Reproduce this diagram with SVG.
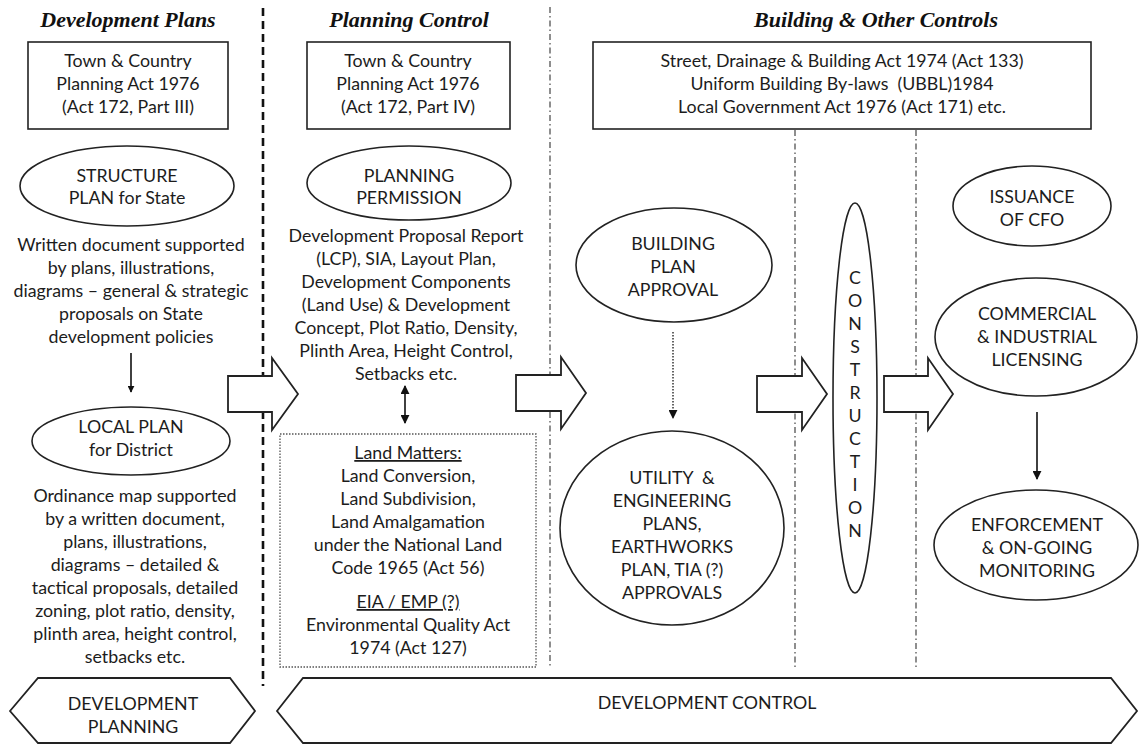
<svg xmlns="http://www.w3.org/2000/svg" width="1139" height="744" viewBox="0 0 1139 744">
  <defs>
    <style>
      .title { font-family: "Liberation Serif", "Times New Roman", serif; font-weight: bold; font-style: italic; font-size: 22px; fill: #111; text-anchor: middle; }
      .t { font-family: Lato, "Open Sans", "Liberation Sans", sans-serif; font-size: 17.8px; fill: #1c1c1c; text-anchor: middle; }
      .pre { white-space: pre; }
      .ul { text-decoration: underline; }
      .box { fill: #fff; stroke: #222; stroke-width: 1.6; }
      .ell { fill: #fff; stroke: #222; stroke-width: 1.6; }
      .dotbox { fill: none; stroke: #555; stroke-width: 1.3; stroke-dasharray: 1.5 1.5; }
      .sep-bold { stroke: #111; stroke-width: 2.6; stroke-dasharray: 8 5; fill: none; }
      .sep { stroke: #444; stroke-width: 1.2; stroke-dasharray: 6 3 1.5 3; fill: none; }
      .blk { fill: #fff; stroke: #222; stroke-width: 1.8; stroke-linejoin: miter; }
      .line { stroke: #111; stroke-width: 1.6; fill: none; }
      .dotline { stroke: #333; stroke-width: 1.5; stroke-dasharray: 1.5 1.5; fill: none; }
    </style>
    <marker id="ah" viewBox="0 0 10 10" refX="9" refY="5" markerWidth="7" markerHeight="7" markerUnits="userSpaceOnUse" orient="auto-start-reverse">
      <path d="M0,0 L10,5 L0,10 z" fill="#111"/>
    </marker>
    <marker id="ah2" viewBox="0 0 10 10" refX="9" refY="5" markerWidth="9" markerHeight="9" markerUnits="userSpaceOnUse" orient="auto-start-reverse">
      <path d="M0,0 L10,5 L0,10 z" fill="#111"/>
    </marker>
  </defs>

  <rect width="1139" height="744" fill="#fff"/>

  <!-- column separators -->
  <g id="separators">
    <line class="sep-bold" x1="263" y1="8" x2="263" y2="686"/>
    <line class="sep" x1="550" y1="7" x2="550" y2="668"/>
    <line class="sep" x1="795" y1="130" x2="795" y2="668"/>
    <line class="sep" x1="916" y1="130" x2="916" y2="668"/>
  </g>

  <!-- column headings -->
  <g id="headings">
    <text class="title" x="128" y="27">Development Plans</text>
    <text class="title" x="409" y="27">Planning Control</text>
    <text class="title" x="876" y="27">Building &amp; Other Controls</text>
  </g>

  <!-- legislation boxes -->
  <g id="act-tcpa-part3">
    <rect class="box" x="28" y="42" width="200" height="87"/>
    <text class="t" x="128" y="67">Town &amp; Country</text>
    <text class="t" x="128" y="90">Planning Act 1976</text>
    <text class="t" x="128" y="113">(Act 172, Part III)</text>
  </g>
  <g id="act-tcpa-part4">
    <rect class="box" x="307" y="42" width="203" height="87"/>
    <text class="t" x="408" y="67">Town &amp; Country</text>
    <text class="t" x="408" y="90">Planning Act 1976</text>
    <text class="t" x="408" y="113">(Act 172, Part IV)</text>
  </g>
  <g id="act-building">
    <rect class="box" x="593" y="42" width="498" height="87"/>
    <text class="t" x="842" y="67">Street, Drainage &amp; Building Act 1974 (Act 133)</text>
    <text class="t pre" x="842" y="90">Uniform Building By-laws  (UBBL)1984</text>
    <text class="t" x="842" y="113">Local Government Act 1976 (Act 171) etc.</text>
  </g>

  <!-- development plans column -->
  <g id="structure-plan">
    <ellipse class="ell" cx="127" cy="186" rx="107" ry="40"/>
    <text class="t" x="127" y="182">STRUCTURE</text>
    <text class="t" x="127" y="204">PLAN for State</text>
  </g>
  <g id="structure-plan-note">
    <text class="t" x="131" y="251">Written document supported</text>
    <text class="t" x="131" y="274">by plans, illustrations,</text>
    <text class="t" x="131" y="297">diagrams – general &amp; strategic</text>
    <text class="t" x="131" y="320">proposals on State</text>
    <text class="t" x="131" y="343">development policies</text>
  </g>
  <g id="local-plan">
    <ellipse class="ell" cx="131" cy="441" rx="99" ry="34"/>
    <text class="t" x="131" y="433">LOCAL PLAN</text>
    <text class="t" x="131" y="456">for District</text>
  </g>
  <g id="local-plan-note">
    <text class="t" x="135" y="502">Ordinance map supported</text>
    <text class="t" x="135" y="525">by a written document,</text>
    <text class="t" x="135" y="548">plans, illustrations,</text>
    <text class="t" x="135" y="571">diagrams – detailed &amp;</text>
    <text class="t" x="135" y="594">tactical proposals, detailed</text>
    <text class="t" x="135" y="617">zoning, plot ratio, density,</text>
    <text class="t" x="135" y="640">plinth area, height control,</text>
    <text class="t" x="135" y="663">setbacks etc.</text>
  </g>

  <!-- planning control column -->
  <g id="planning-permission">
    <ellipse class="ell" cx="409" cy="183" rx="102" ry="37"/>
    <text class="t" x="409" y="182">PLANNING</text>
    <text class="t" x="409" y="204">PERMISSION</text>
  </g>
  <g id="planning-permission-note">
    <text class="t" x="406" y="242">Development Proposal Report</text>
    <text class="t" x="406" y="265">(LCP), SIA, Layout Plan,</text>
    <text class="t" x="406" y="288">Development Components</text>
    <text class="t" x="406" y="311">(Land Use) &amp; Development</text>
    <text class="t" x="406" y="334">Concept, Plot Ratio, Density,</text>
    <text class="t" x="406" y="357">Plinth Area, Height Control,</text>
    <text class="t" x="406" y="380">Setbacks etc.</text>
  </g>
  <g id="land-matters">
    <rect class="dotbox" x="280" y="434" width="256" height="233"/>
    <text class="t ul" x="408" y="459">Land Matters:</text>
    <text class="t" x="408" y="482">Land Conversion,</text>
    <text class="t" x="408" y="505">Land Subdivision,</text>
    <text class="t" x="408" y="528">Land Amalgamation</text>
    <text class="t" x="408" y="551">under the National Land</text>
    <text class="t" x="408" y="574">Code 1965 (Act 56)</text>
    <text class="t ul" x="408" y="608">EIA / EMP (?)</text>
    <text class="t" x="408" y="631">Environmental Quality Act</text>
    <text class="t" x="408" y="654">1974 (Act 127)</text>
  </g>

  <!-- building & other controls column -->
  <g id="building-plan-approval">
    <ellipse class="ell" cx="674" cy="265" rx="98" ry="57"/>
    <text class="t" x="673" y="250">BUILDING</text>
    <text class="t" x="673" y="273">PLAN</text>
    <text class="t" x="673" y="296">APPROVAL</text>
  </g>
  <g id="utility-approvals">
    <ellipse class="ell" cx="672" cy="528" rx="112" ry="97"/>
    <text class="t pre" x="672" y="484">UTILITY  &amp;</text>
    <text class="t" x="672" y="507">ENGINEERING</text>
    <text class="t" x="672" y="530">PLANS,</text>
    <text class="t" x="672" y="553">EARTHWORKS</text>
    <text class="t" x="672" y="576">PLAN, TIA (?)</text>
    <text class="t" x="672" y="599">APPROVALS</text>
  </g>
  <g id="construction">
    <ellipse class="ell" cx="855" cy="398" rx="22" ry="195"/>
    <text class="t" x="855" y="284">C</text>
    <text class="t" x="855" y="307">O</text>
    <text class="t" x="855" y="330">N</text>
    <text class="t" x="855" y="353">S</text>
    <text class="t" x="855" y="376">T</text>
    <text class="t" x="855" y="399">R</text>
    <text class="t" x="855" y="422">U</text>
    <text class="t" x="855" y="445">C</text>
    <text class="t" x="855" y="468">T</text>
    <text class="t" x="855" y="491">I</text>
    <text class="t" x="855" y="514">O</text>
    <text class="t" x="855" y="537">N</text>
  </g>
  <g id="issuance-cfo">
    <ellipse class="ell" cx="1032" cy="206" rx="79" ry="40"/>
    <text class="t" x="1032" y="203">ISSUANCE</text>
    <text class="t" x="1032" y="226">OF CFO</text>
  </g>
  <g id="licensing">
    <ellipse class="ell" cx="1036" cy="337" rx="101" ry="59"/>
    <text class="t" x="1037" y="320">COMMERCIAL</text>
    <text class="t" x="1037" y="343">&amp; INDUSTRIAL</text>
    <text class="t" x="1037" y="366">LICENSING</text>
  </g>
  <g id="enforcement">
    <ellipse class="ell" cx="1036" cy="545" rx="102" ry="55"/>
    <text class="t" x="1037" y="531">ENFORCEMENT</text>
    <text class="t" x="1037" y="554">&amp; ON-GOING</text>
    <text class="t" x="1037" y="577">MONITORING</text>
  </g>

  <!-- phase banners -->
  <g id="development-planning">
    <path class="blk" d="M10,711 L38,678 L230,678 L255,711 L230,743 L38,743 Z"/>
    <text class="t" x="133" y="710">DEVELOPMENT</text>
    <text class="t" x="133" y="733">PLANNING</text>
  </g>
  <g id="development-control">
    <path class="blk" d="M277,711 L303,678 L1111,678 L1137,711 L1111,743 L303,743 Z"/>
    <text class="t" x="707" y="709">DEVELOPMENT CONTROL</text>
  </g>

  <!-- connectors -->
  <g id="connectors">
    <!-- stage-to-stage block arrows -->
    <path class="blk" d="M228,376 L272,376 L272,358 L298,394 L272,430 L272,412 L228,412 Z"/>
    <path class="blk" d="M516,375 L561,375 L561,357 L586,393 L561,429 L561,411 L516,411 Z"/>
    <path class="blk" d="M757,376 L802,376 L802,358 L827,394 L802,430 L802,412 L757,412 Z"/>
    <path class="blk" d="M884,376 L928,376 L928,358 L953,394 L928,430 L928,412 L884,412 Z"/>
    <!-- structure plan to local plan -->
    <line class="line" x1="131" y1="353" x2="131" y2="392" marker-end="url(#ah)"/>
    <!-- planning permission with land matters -->
    <line class="line" x1="405" y1="386" x2="405" y2="423" marker-start="url(#ah2)" marker-end="url(#ah2)"/>
    <!-- building plan approval to utility approvals -->
    <line class="dotline" x1="673" y1="332" x2="673" y2="418" marker-end="url(#ah2)"/>
    <!-- licensing to enforcement -->
    <line class="line" x1="1037" y1="412" x2="1037" y2="479" marker-end="url(#ah2)"/>
  </g>
</svg>
